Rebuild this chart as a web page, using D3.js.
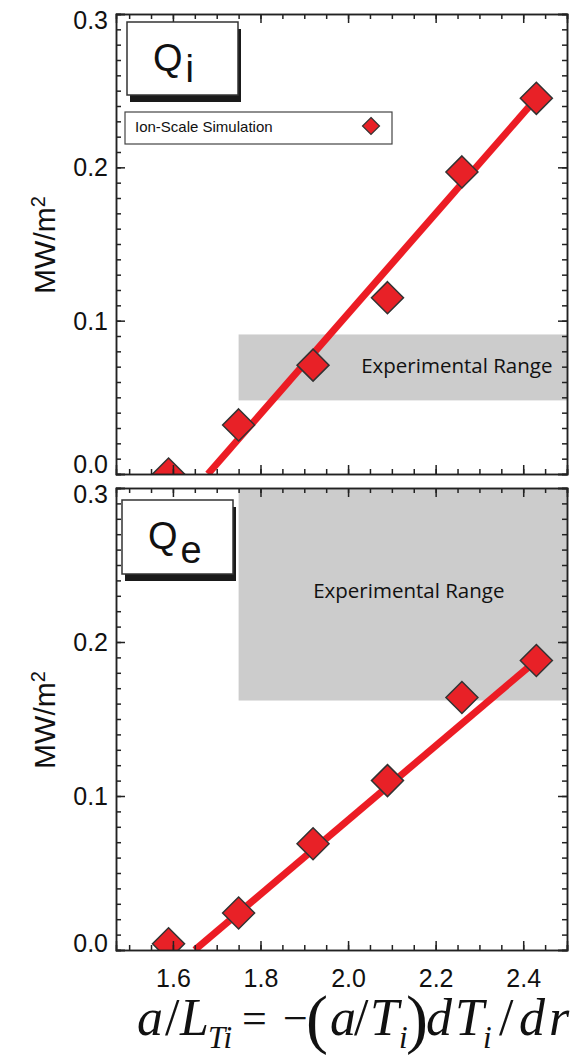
<!DOCTYPE html>
<html>
<head>
<meta charset="utf-8">
<script src="https://cdn.jsdelivr.net/npm/d3@7"></script>
<style>
  body { margin: 0; background: #fff; }
  svg { display: block; }
  .axis path, .axis line { stroke: #222; stroke-width: 1.5; }
  .axis text { font-family: "Liberation Sans", Arial, sans-serif; font-size: 25px; fill: #111; }
  .math { font-family: "Liberation Serif", "Times New Roman", serif; fill: #111; }
</style>
</head>
<body>
<div id="chart"></div>
<script>
// donnees
var gradTi = [1.59, 1.75, 1.92, 2.09, 2.26, 2.43];
var qiSim = [0.0, 0.032, 0.071, 0.115, 0.197, 0.245];
var qeSim = [0.004, 0.024, 0.069, 0.110, 0.164, 0.188];

// droites d'ajustement
var qiFitX = [1.68, 2.43], qiFitY = [0.0, 0.245];
var qeFitX = [1.65, 2.43], qeFitY = [0.0, 0.188];

// plages experimentales [x0, x1, y0, y1]
var qiExp = [1.75, 2.5, 0.048, 0.091];
var qeExp = [1.75, 2.5, 0.162, 0.3];

var xTicks = [1.6, 1.8, 2.0, 2.2, 2.4];
var yTicks = [0.0, 0.1, 0.2, 0.3];
var yTickLabels = ["0.0", "0.1", "0.2", "0.3"];

var width = 578, height = 1055;
var left = 116, right = 567;

var svg = d3.select("#chart").append("svg")
    .attr("width", width)
    .attr("height", height);

var x = d3.scaleLinear().domain([1.47, 2.5]).range([left, right]);

var panels = [
    { name: "qi", top: 14, bottom: 474, sim: qiSim, fx: qiFitX, fy: qiFitY, exp: qiExp,
      label: "Q", sub: "i", box: [127, 22, 238, 95], subDy: 11, legend: true, xLabels: false,
      expDx: 54, expY: 373 },
    { name: "qe", top: 488, bottom: 950, sim: qeSim, fx: qeFitX, fy: qeFitY, exp: qeExp,
      label: "Q", sub: "e", box: [122, 500, 233, 574], subDy: 14, legend: false, xLabels: true,
      expDx: 6, expY: 598 }
];

panels.forEach(function (p) {
    var y = d3.scaleLinear().domain([0, 0.3]).range([p.bottom, p.top]);
    var g = svg.append("g");

    g.append("clipPath").attr("id", "clip-" + p.name)
        .append("rect")
        .attr("x", left).attr("y", p.top)
        .attr("width", right - left).attr("height", p.bottom - p.top);

    var plot = g.append("g").attr("clip-path", "url(#clip-" + p.name + ")");

    // plage experimentale
    plot.append("rect")
        .attr("x", x(p.exp[0]))
        .attr("y", y(p.exp[3]))
        .attr("width", x(p.exp[1]) - x(p.exp[0]))
        .attr("height", y(p.exp[2]) - y(p.exp[3]))
        .attr("fill", "#cccccc");

    plot.append("text")
        .attr("x", (x(p.exp[0]) + x(p.exp[1])) / 2 + p.expDx)
        .attr("y", p.expY)
        .attr("text-anchor", "middle")
        .style("font-family", "'Open Sans', sans-serif")
        .style("font-size", "20.5px")
        .style("fill", "#111")
        .text("Experimental Range");

    // droite d'ajustement
    var line = d3.line().x(function (d) { return x(d[0]); }).y(function (d) { return y(d[1]); });
    plot.append("path")
        .datum(d3.zip(p.fx, p.fy))
        .attr("d", line)
        .attr("fill", "none")
        .attr("stroke", "#ec1c24")
        .attr("stroke-width", 7);

    // losanges
    var s = 16;
    plot.selectAll("path.pt")
        .data(d3.zip(gradTi, p.sim))
        .enter()
        .append("path")
        .attr("class", "pt")
        .attr("d", function (d) {
            var cx = x(d[0]), cy = y(d[1]);
            return "M" + cx + "," + (cy - s) + "L" + (cx + s) + "," + cy +
                "L" + cx + "," + (cy + s) + "L" + (cx - s) + "," + cy + "Z";
        })
        .attr("fill", "#e82127")
        .attr("stroke", "#333")
        .attr("stroke-width", 1.5);

    // axes (graduations vers l'interieur)
    var yMinor = d3.range(0, 0.3001, 0.01);
    var xMinor = d3.range(1.5, 2.5001, 0.05);

    g.append("g").attr("class", "axis")
        .attr("transform", "translate(" + left + ",0)")
        .call(d3.axisLeft(y).tickValues(yMinor).tickSize(-5).tickFormat(""));
    g.append("g").attr("class", "axis")
        .attr("transform", "translate(" + left + ",0)")
        .call(d3.axisLeft(y).tickValues(yTicks).tickSize(-9).tickPadding(8)
            .tickFormat(function (d, i) { return yTickLabels[i]; }))
        .selectAll("text")
        .attr("dy", function (d) {
            if (d === 0) return p.name === "qi" ? "-0.05em" : "0.05em";
            if (d === 0.3) return "0.56em";
            return "0.34em";
        });

    g.append("g").attr("class", "axis")
        .attr("transform", "translate(" + right + ",0)")
        .call(d3.axisRight(y).tickValues(yMinor).tickSize(-5).tickFormat(""));
    g.append("g").attr("class", "axis")
        .attr("transform", "translate(" + right + ",0)")
        .call(d3.axisRight(y).tickValues(yTicks).tickSize(-9).tickFormat(""));

    g.append("g").attr("class", "axis")
        .attr("transform", "translate(0," + p.top + ")")
        .call(d3.axisTop(x).tickValues(xMinor).tickSize(-5).tickFormat(""));
    g.append("g").attr("class", "axis")
        .attr("transform", "translate(0," + p.top + ")")
        .call(d3.axisTop(x).tickValues(xTicks).tickSize(-9).tickFormat(""));

    g.append("g").attr("class", "axis")
        .attr("transform", "translate(0," + p.bottom + ")")
        .call(d3.axisBottom(x).tickValues(xMinor).tickSize(-5).tickFormat(""));
    g.append("g").attr("class", "axis")
        .attr("transform", "translate(0," + p.bottom + ")")
        .call(d3.axisBottom(x).tickValues(xTicks).tickSize(-9).tickPadding(19)
            .tickFormat(p.xLabels ? d3.format(".1f") : ""));

    // titre axe y
    var yl = g.append("text")
        .attr("transform", "translate(55," + ((p.top + p.bottom) / 2 + 1) + ") rotate(-90)")
        .attr("text-anchor", "middle")
        .style("font-family", "'Liberation Sans', Arial, sans-serif")
        .style("font-size", "30px")
        .style("fill", "#111");
    yl.append("tspan").text("MW/m");
    yl.append("tspan").attr("dy", "-0.5em").style("font-size", "20px").text("2");

    // boite Q avec ombre
    var b = p.box;
    g.append("rect")
        .attr("x", b[0] + 3).attr("y", b[1] + 7)
        .attr("width", b[2] - b[0]).attr("height", b[3] - b[1])
        .attr("fill", "#1a1a1a");
    g.append("rect")
        .attr("x", b[0]).attr("y", b[1])
        .attr("width", b[2] - b[0]).attr("height", b[3] - b[1])
        .attr("fill", "#fff")
        .attr("stroke", "#333")
        .attr("stroke-width", 1.5);
    var qt = g.append("text")
        .attr("x", b[0] + 26)
        .attr("y", b[1] + 49)
        .style("font-family", "'Liberation Sans', Arial, sans-serif")
        .style("font-size", "38px")
        .style("fill", "#111");
    qt.append("tspan").text(p.label);
    qt.append("tspan").attr("dx", "3").attr("dy", p.subDy).text(p.sub);

    // legende
    if (p.legend) {
        g.append("rect")
            .attr("x", 125).attr("y", 112)
            .attr("width", 267).attr("height", 32)
            .attr("fill", "#fff")
            .attr("stroke", "#444")
            .attr("stroke-width", 1.2);
        g.append("text")
            .attr("x", 135).attr("y", 132)
            .style("font-family", "'Liberation Sans', Arial, sans-serif")
            .style("font-size", "15px")
            .style("fill", "#111")
            .text("Ion-Scale Simulation");
        var ls = 8.5;
        g.append("path")
            .attr("d", "M371," + (126 - ls) + "L" + (371 + ls) + ",126L371," + (126 + ls) + "L" + (371 - ls) + ",126Z")
            .attr("fill", "#e82127")
            .attr("stroke", "#333")
            .attr("stroke-width", 1.2);
    }
});

// titre axe x : a/L_Ti = -(a/T_i) dT_i/dr, un seul texte avec des tspans
var base = 1035;
var pieces = [
    { t: "a", x: 137, size: 52, it: true, dy: 0 },
    { t: "/", x: 165, size: 52, it: false, dy: 0 },
    { t: "L", x: 180, size: 52, it: true, dy: 0 },
    { t: "Ti", x: 208, size: 31, it: true, dy: 13 },
    { t: "=", x: 242, size: 44, it: false, dy: -2 },
    { t: "\u2212", x: 283, size: 44, it: false, dy: -2 },
    { t: "(", x: 306, size: 66, it: false, dy: 6 },
    { t: "a", x: 330, size: 52, it: true, dy: 0 },
    { t: "/", x: 354, size: 52, it: false, dy: 0 },
    { t: "T", x: 370, size: 52, it: true, dy: 0 },
    { t: "i", x: 399, size: 31, it: true, dy: 13 },
    { t: ")", x: 406, size: 66, it: false, dy: 6 },
    { t: "d", x: 426, size: 52, it: true, dy: 0 },
    { t: "T", x: 455, size: 52, it: true, dy: 0 },
    { t: "i", x: 483, size: 31, it: true, dy: 13 },
    { t: "/", x: 499, size: 52, it: false, dy: 0 },
    { t: "d", x: 519, size: 52, it: true, dy: 0 },
    { t: "r", x: 549, size: 52, it: true, dy: 0 }
];
svg.append("text")
    .attr("class", "math")
    .selectAll("tspan")
    .data(pieces)
    .enter()
    .append("tspan")
    .attr("x", function (d) { return d.x; })
    .attr("y", function (d) { return base + d.dy; })
    .style("font-size", function (d) { return d.size + "px"; })
    .style("font-style", function (d) { return d.it ? "italic" : "normal"; })
    .text(function (d) { return d.t; });
</script>
</body>
</html>
